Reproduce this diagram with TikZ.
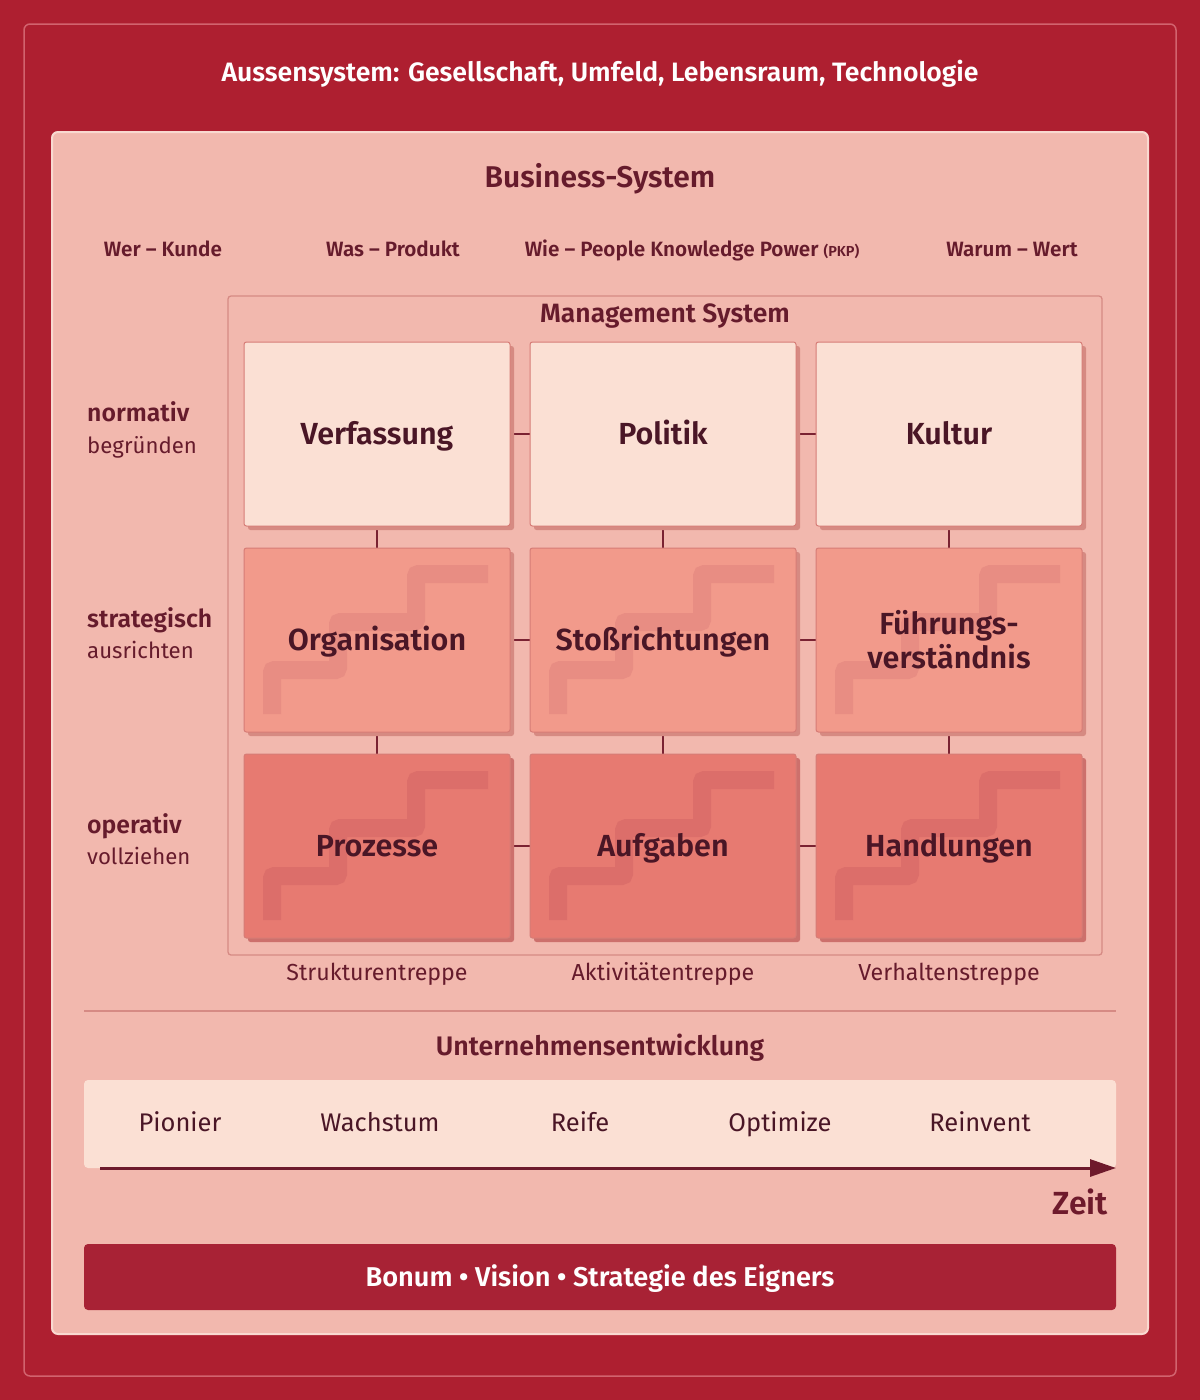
\documentclass[tikz,border=0pt]{standalone}
\usepackage{fontspec}
\setmainfont{Fira Sans}[BoldFont={Fira Sans SemiBold}]
\usetikzlibrary{arrows.meta}
\definecolor{bgred}{HTML}{AE1F30}
\definecolor{outerline}{HTML}{D2636E}
\definecolor{innerfill}{HTML}{F2B8AE}
\definecolor{innerborder}{HTML}{F9D9D0}
\definecolor{mgborder}{HTML}{D68A84}
\definecolor{rowA}{HTML}{FBE0D4}
\definecolor{rowB}{HTML}{F29A8B}
\definecolor{rowC}{HTML}{E77A71}
\definecolor{stairB}{HTML}{E88D83}
\definecolor{stairC}{HTML}{DC6E6A}
\definecolor{boxborder}{HTML}{D67C76}
\definecolor{shadowc}{HTML}{D68A82}
\definecolor{shadowcC}{HTML}{CD706C}
\definecolor{darktext}{HTML}{4A1626}
\definecolor{headtext}{HTML}{661B2C}
\definecolor{conncol}{HTML}{7A2232}
\definecolor{arrowcol}{HTML}{6E1A2C}
\definecolor{barred}{HTML}{A82235}
\pgfdeclarelayer{back}
\pgfdeclarelayer{mid}
\pgfsetlayers{back,mid,main}
\begin{document}
\begin{tikzpicture}[x=1pt,y=-1pt,
  fs/.style={font=\fontsize{#1}{#1}\selectfont, anchor=base, inner sep=0, yshift=-0.345*#1},
  fb/.style={font=\bfseries\fontsize{#1}{#1}\selectfont, anchor=base, inner sep=0, yshift=-0.345*#1},
  cell/.style={draw=boxborder, line width=1, rounded corners=2.5, minimum width=266, minimum height=184, inner sep=0, outer sep=0, text=darktext, font=\bfseries\fontsize{30.5}{35}\selectfont, align=center,
    preaction={fill=#1, transform canvas={shift={(4pt,-4pt)}}}},
  cellA/.style={cell=shadowc, fill=rowA},
  cellB/.style={cell=shadowc, fill=rowB, path picture={\draw[stairB, line width=18, line cap=butt, line join=miter]
     ([shift={(28,166)}]path picture bounding box.north west) -- ++(0,-44) -- ++(66,0) -- ++(0,-48) -- ++(78,0) -- ++(0,-48) -- ++(72,0);}},
  cellC/.style={cell=shadowcC, fill=rowC, path picture={\draw[stairC, line width=18, line cap=butt, line join=miter]
     ([shift={(28,166)}]path picture bounding box.north west) -- ++(0,-44) -- ++(66,0) -- ++(0,-48) -- ++(78,0) -- ++(0,-48) -- ++(72,0);}},
  one/.style={text height=27pt, text depth=6pt},
  conn/.style={draw=conncol, line width=1.8},
  rowlab/.style={text=headtext, fb=24.8, anchor=base west},
  rowsub/.style={text=headtext, fs=22.2, anchor=base west},
  colhead/.style={text=headtext, fb=20.7},
  stairlab/.style={text=headtext, fs=23.2},
  stage/.style={text=darktext, fs=25.5},
]
\useasboundingbox (0,0) rectangle (1200,1400);
\begin{pgfonlayer}{back}
\fill[bgred] (0,0) rectangle (1200,1400);
\draw[outerline, line width=1.5, rounded corners=6] (24,24) rectangle (1176,1376);
\draw[fill=innerfill, draw=innerborder, line width=2, rounded corners=6] (52,132) rectangle (1148,1334);
\draw[mgborder, line width=1.3, rounded corners=3] (228,296) rectangle (1102,955);
\draw[mgborder, line width=1.2] (84,1011) -- (1116,1011);
\fill[rowA, rounded corners=4] (84,1080) rectangle (1116,1168);
\fill[barred, rounded corners=4] (84,1244) rectangle (1116,1310);
\end{pgfonlayer}

\node[text=white, fb=26.6] (aussen) at (600,72) {Aussensystem: Gesellschaft, Umfeld, Lebensraum, Technologie};
\node[text=headtext, fb=30] (business) at (600,177) {Business-System};

\node[colhead] (wer) at (163,249) {Wer – Kunde};
\node[colhead] (was) at (393,249) {Was – Produkt};
\node[colhead] (wie) at (692,249) {Wie – People Knowledge Power {\fontsize{14.5}{14.5}\selectfont(PKP)}};
\node[colhead] (warum) at (1012,249) {Warum – Wert};

\node[text=headtext, fb=26.5] (mgmt) at (665,313) {Management System};

\node[rowlab] (normativ) at (87,413) {normativ};
\node[rowsub] (begr) at (87,446) {begründen};
\node[rowlab] (strat) at (87,619) {strategisch};
\node[rowsub] (ausr) at (87,651) {ausrichten};
\node[rowlab] (oper) at (87,825) {operativ};
\node[rowsub] (voll) at (87,857) {vollziehen};

\node[cellA, one] (b11) at (377,434) {Verfassung};
\node[cellA, one] (b12) at (663,434) {Politik};
\node[cellA, one] (b13) at (949,434) {Kultur};
\node[cellB, one] (b21) at (377,640) {Organisation};
\node[cellB, one] (b22) at (663,640) {Stoßrichtungen};
\node[cellB] (b23) at (949,640) {Führungs-\\[-1pt]verständnis};
\node[cellC, one] (b31) at (377,846) {Prozesse};
\node[cellC, one] (b32) at (663,846) {Aufgaben};
\node[cellC, one] (b33) at (949,846) {Handlungen};

\begin{pgfonlayer}{mid}
\foreach \r in {1,2,3}{
  \draw[conn] (b\r1.east) -- (b\r2.west);
  \draw[conn] (b\r2.east) -- (b\r3.west);
}
\foreach \c in {1,2,3}{
  \draw[conn] (b1\c.south) -- (b2\c.north);
  \draw[conn] (b2\c.south) -- (b3\c.north);
}
\end{pgfonlayer}

\node[stairlab] (s1) at (377,972) {Strukturentreppe};
\node[stairlab] (s2) at (663,972) {Aktivitätentreppe};
\node[stairlab] (s3) at (949,972) {Verhaltenstreppe};

\node[text=headtext, fb=26.8] (ue) at (600,1046) {Unternehmensentwicklung};

\node[stage] (p1) at (180,1123) {Pionier};
\node[stage] (p2) at (380,1123) {Wachstum};
\node[stage] (p3) at (580,1123) {Reife};
\node[stage] (p4) at (780,1123) {Optimize};
\node[stage] (p5) at (980,1123) {Reinvent};

\coordinate (tstart) at (100,1168);
\coordinate (tend) at (1116,1168);
\draw[arrowcol, line width=3, -{Triangle[length=26pt, width=17pt]}] (tstart) -- (tend);
\node[text=arrowcol, fb=32, anchor=base east] (zeit) at (1108,1203) {Zeit};

\node[text=white, fb=27.2] (bonum) at (600,1277) {Bonum • Vision • Strategie des Eigners};
\end{tikzpicture}
\end{document}
